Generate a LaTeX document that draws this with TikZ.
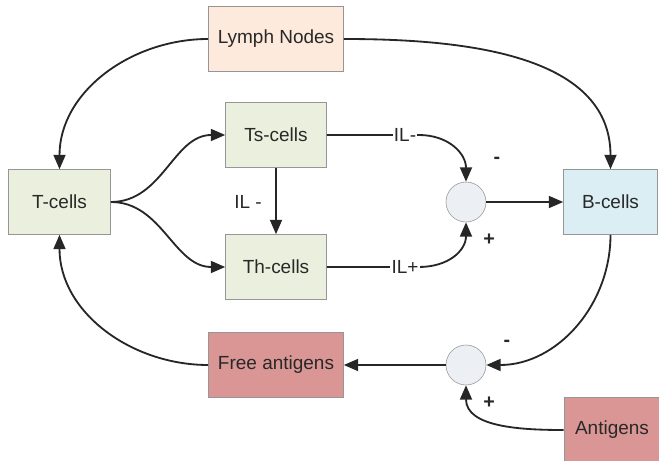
\documentclass[tikz,border=0pt]{standalone}
\usepackage{fontspec}
\setmainfont{Liberation Sans}
\usetikzlibrary{arrows.meta}
\definecolor{lnpeach}{RGB}{253,234,220}
\definecolor{cellgreen}{RGB}{235,240,222}
\definecolor{cellblue}{RGB}{218,238,243}
\definecolor{agred}{RGB}{217,150,148}
\definecolor{sumfill}{RGB}{236,240,245}
\definecolor{edgegray}{RGB}{150,150,150}
\definecolor{txtgray}{RGB}{40,40,40}

\begin{document}
\begin{tikzpicture}[x=0.025cm, y=0.025cm,
  box/.style={draw=edgegray, rectangle, inner sep=0pt, minimum height=1.625cm,
              font=\fontsize{13.5}{16}\selectfont, text=txtgray},
  sumnode/.style={draw=edgegray, circle, fill=sumfill, minimum size=1cm, inner sep=0pt},
  conn/.style={-{Triangle[length=0.36cm,width=0.3cm]}, line width=1.3pt, black!85},
  ilabel/.style={fill=white, inner sep=0.8pt, font=\fontsize{13.5}{16}\selectfont, text=txtgray},
  sign/.style={font=\fontsize{14}{16}\selectfont\bfseries, text=txtgray}]
\useasboundingbox (0,0) rectangle (659,461);
% Boxes
\node[box, fill=lnpeach, minimum width=3.375cm] (lymph) at (276,422) {Lymph Nodes};
\node[box, fill=cellgreen, minimum width=2.55cm] (tcells) at (59.5,259) {T-cells};
\node[box, fill=cellgreen, minimum width=2.525cm] (ts) at (276,326) {Ts-cells};
\node[box, fill=cellgreen, minimum width=2.525cm] (th) at (276,194) {Th-cells};
\node[box, fill=cellblue, minimum width=2.35cm] (bcells) at (610.5,259) {B-cells};
\node[box, fill=agred, minimum width=3.375cm] (free) at (276,96) {Free antigens};
\node[box, fill=agred, minimum width=2.4cm, minimum height=1.65cm] (antigens) at (612,31) {Antigens};
% Summing points
\node[sumnode] (sum1) at (466,259) {};
\node[sumnode] (sum2) at (466,96) {};
% Lymph nodes feed both cell types
\draw[conn] (lymph.west) to[out=180, in=90] (tcells.north);
\draw[conn] (lymph.east) to[out=0, in=90] (bcells.north);
% T-cells split
\draw[conn] (tcells.east) to[out=0, in=180] (ts.west);
\draw[conn] (tcells.east) to[out=0, in=180] (th.west);
\draw[conn] (ts.south) -- (th.north);
\node[ilabel] (ilts) at (248,259) {IL -};
% Interleukins to first summing point
\draw[conn] (ts.east) -- node[ilabel, pos=0.85] {IL-} ++(92,0)
  .. controls +(30,0) and +(0,28) .. (sum1.north);
\draw[conn] (th.east) -- node[ilabel, pos=0.85] {IL+} ++(92,0)
  .. controls +(30,0) and +(0,-28) .. (sum1.south);
\node[sign] (m1) at (497,301) {-};
\node[sign] (p1) at (489,221) {+};
\draw[conn] (sum1.east) -- (bcells.west);
% Antigen balance
\draw[conn] (bcells.south) to[out=-90, in=0] (sum2.east);
\draw[conn] (antigens.west) to[out=180, in=-90] (sum2.south);
\node[sign] (m2) at (507,118) {-};
\node[sign] (p2) at (489,58) {+};
\draw[conn] (sum2.west) -- (free.east);
\draw[conn] (free.west) to[out=180, in=-90] (tcells.south);
\end{tikzpicture}
\end{document}
